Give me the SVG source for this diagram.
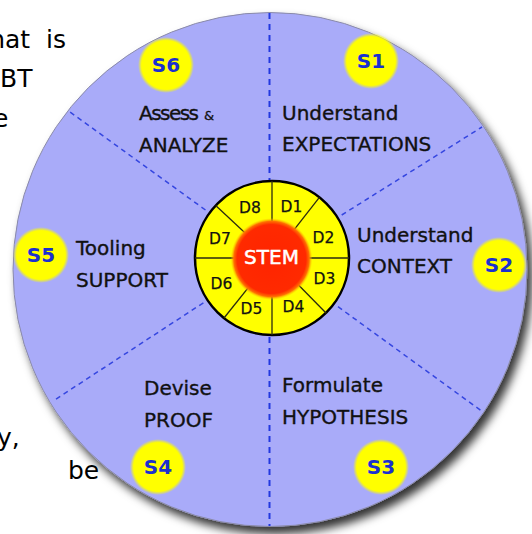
<svg xmlns="http://www.w3.org/2000/svg" width="532" height="534" viewBox="0 0 532 534">
  <defs>
    <filter id="disc-shadow" x="-10%" y="-10%" width="125%" height="125%">
      <feDropShadow dx="5" dy="7" stdDeviation="5" flood-color="#000" flood-opacity="0.8"/>
    </filter>
    <radialGradient id="badge-fill" cx="0.5" cy="0.5" r="0.5">
      <stop offset="0" stop-color="#ffff00"/>
      <stop offset="0.87" stop-color="#ffff00"/>
      <stop offset="1" stop-color="#ffff00" stop-opacity="0"/>
    </radialGradient>
    <radialGradient id="core-fill" cx="0.5" cy="0.5" r="0.5">
      <stop offset="0" stop-color="#ff2400"/>
      <stop offset="0.84" stop-color="#ff2a00"/>
      <stop offset="0.92" stop-color="#ff7000"/>
      <stop offset="1" stop-color="#ffd000" stop-opacity="0"/>
    </radialGradient>
    <style>
      .slide { font-family: "DejaVu Sans", "Liberation Sans", sans-serif; font-size: 25px; fill: #000; }
      .label { font-family: "DejaVu Sans", "Liberation Sans", sans-serif; font-size: 20px; fill: #111; stroke: #111; stroke-width: 0.35; }
      .amp { font-family: "DejaVu Sans", "Liberation Sans", sans-serif; font-size: 13px; fill: #111; stroke: #111; stroke-width: 0.3; }
      .badge-text { font-family: "DejaVu Sans", "Liberation Sans", sans-serif; font-size: 20px; font-weight: bold; fill: #1b30cf; text-anchor: middle; }
      .d-text { font-family: "DejaVu Sans", "Liberation Sans", sans-serif; font-size: 15.5px; fill: #111; stroke: #111; stroke-width: 0.25; text-anchor: middle; }
      .stem-text { font-family: "DejaVu Sans", "Liberation Sans", sans-serif; font-size: 20px; fill: #fff; stroke: #fff; stroke-width: 0.5; text-anchor: middle; }
      .divider { stroke: #3546e0; stroke-width: 1.5; stroke-dasharray: 5 4; fill: none; }
      .axis { stroke: #2238e0; stroke-width: 2; stroke-dasharray: 6 5; fill: none; }
      .spoke { stroke: #2a2a10; stroke-width: 1.3; }
    </style>
  </defs>

  <rect width="532" height="534" fill="#fff"/>

  <!-- slide text partly hidden behind the wheel -->
  <g id="slide-text">
    <text class="slide" x="66" y="48" text-anchor="end" xml:space="preserve">hat  is</text>
    <text class="slide" x="0" y="87">BT</text>
    <text class="slide" x="-7" y="127">e</text>
    <text class="slide" x="-3" y="446">y,</text>
    <text class="slide" x="68" y="479">be</text>
  </g>

  <!-- outer wheel -->
  <g id="wheel">
    <circle cx="270" cy="269.5" r="257" fill="#a9abf9" stroke="#8a8aa8" stroke-width="1" filter="url(#disc-shadow)"/>
  </g>

  <!-- sector dividers -->
  <g id="connectors">
    <line class="axis" x1="269.5" y1="13" x2="269.5" y2="181"/>
    <line class="axis" x1="269.5" y1="337" x2="269.5" y2="526"/>
    <line class="divider" x1="341.7" y1="215" x2="482" y2="127"/>
    <line class="divider" x1="338" y1="306.7" x2="483" y2="412"/>
    <line class="divider" x1="205.5" y1="210" x2="70" y2="112"/>
    <line class="divider" x1="203.4" y1="302.8" x2="53" y2="401"/>
  </g>

  <!-- central hub: eight dimensions around STEM -->
  <g id="hub">
    <circle cx="272" cy="258" r="77" fill="#ffff00" stroke="#000" stroke-width="2.5"/>
    <g class="spoke">
      <line x1="272" y1="258" x2="349" y2="258"/>
      <line x1="272" y1="258" x2="319.4" y2="197.3"/>
      <line x1="272" y1="258" x2="272" y2="181"/>
      <line x1="272" y1="258" x2="215.7" y2="205.5"/>
      <line x1="272" y1="258" x2="195" y2="258"/>
      <line x1="272" y1="258" x2="224" y2="318"/>
      <line x1="272" y1="258" x2="272" y2="335"/>
      <line x1="272" y1="258" x2="326.5" y2="313.5"/>
    </g>
    <circle cx="271.5" cy="259" r="41" fill="url(#core-fill)"/>
    <text class="stem-text" x="271.5" y="264">STEM</text>
    <text class="d-text" x="291.5" y="211.5">D1</text>
    <text class="d-text" x="323.5" y="242.5">D2</text>
    <text class="d-text" x="324.5" y="284">D3</text>
    <text class="d-text" x="293.5" y="311.5">D4</text>
    <text class="d-text" x="251.5" y="314">D5</text>
    <text class="d-text" x="221.5" y="289">D6</text>
    <text class="d-text" x="220" y="244">D7</text>
    <text class="d-text" x="250" y="213">D8</text>
  </g>

  <g id="s1">
    <circle cx="371" cy="61" r="28" fill="url(#badge-fill)"/>
    <text class="badge-text" x="371" y="68">S1</text>
    <text class="label" x="282" y="120">Understand</text>
    <text class="label" x="282" y="151">EXPECTATIONS</text>
  </g>

  <g id="s2">
    <circle cx="499" cy="265" r="28" fill="url(#badge-fill)"/>
    <text class="badge-text" x="499" y="272">S2</text>
    <text class="label" x="357" y="242">Understand</text>
    <text class="label" x="357" y="273">CONTEXT</text>
  </g>

  <g id="s3">
    <circle cx="381" cy="467" r="28" fill="url(#badge-fill)"/>
    <text class="badge-text" x="381" y="474">S3</text>
    <text class="label" x="282" y="392">Formulate</text>
    <text class="label" x="282" y="424">HYPOTHESIS</text>
  </g>

  <g id="s4">
    <circle cx="158" cy="467" r="28" fill="url(#badge-fill)"/>
    <text class="badge-text" x="158" y="474">S4</text>
    <text class="label" x="144" y="395">Devise</text>
    <text class="label" x="144" y="427">PROOF</text>
  </g>

  <g id="s5">
    <circle cx="41" cy="255" r="28" fill="url(#badge-fill)"/>
    <text class="badge-text" x="41" y="262">S5</text>
    <text class="label" x="76" y="255">Tooling</text>
    <text class="label" x="76" y="287">SUPPORT</text>
  </g>

  <g id="s6">
    <circle cx="166" cy="65" r="28" fill="url(#badge-fill)"/>
    <text class="badge-text" x="166" y="72">S6</text>
    <text class="label" x="139" y="120" textLength="60" lengthAdjust="spacing">Assess</text>
    <text class="amp" x="204" y="120">&amp;</text>
    <text class="label" x="139" y="152">ANALYZE</text>
  </g>
</svg>
